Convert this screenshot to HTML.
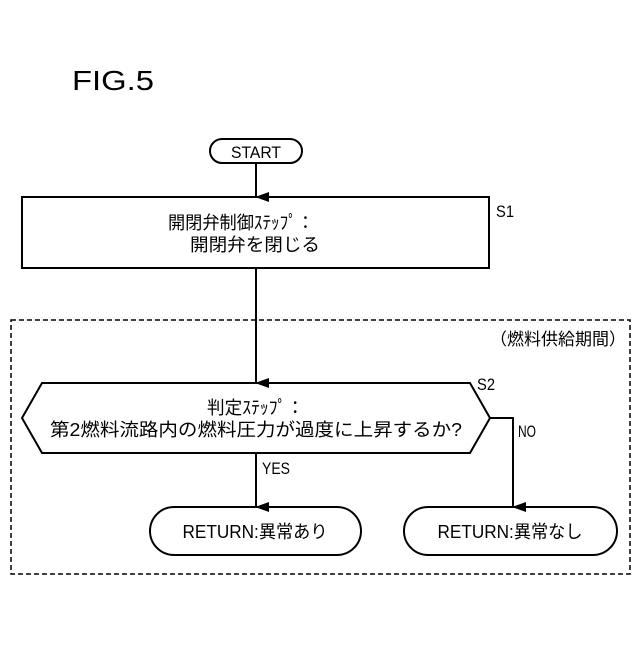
<!DOCTYPE html>
<html><head><meta charset="utf-8"><style>
html,body{margin:0;padding:0;background:#fff;}
svg text{font-family:"Liberation Sans","Noto Sans CJK JP",sans-serif;fill:#000;}
</style></head><body>
<svg width="640" height="640" viewBox="0 0 640 640" xmlns="http://www.w3.org/2000/svg">
<defs><marker id="a" markerWidth="10" markerHeight="14" refX="5" refY="13" orient="auto-start-reverse" markerUnits="userSpaceOnUse"><path d="M0,0 L5,14 L10,0 Z" fill="#000"/></marker></defs>
<text x="72" y="90" font-size="28" textLength="82" lengthAdjust="spacingAndGlyphs">FIG.5</text>
<rect x="210" y="139" width="92" height="24" rx="12" fill="none" stroke="#000" stroke-width="2"/>
<text x="256" y="158" font-size="17" text-anchor="middle" textLength="50" lengthAdjust="spacingAndGlyphs">START</text>
<line x1="256" y1="163" x2="256" y2="197" stroke="#000" stroke-width="2" marker-end="url(#a)"/>
<rect x="22" y="197" width="467" height="71" fill="none" stroke="#000" stroke-width="2"/>
<text x="496" y="217" font-size="17" textLength="18" lengthAdjust="spacingAndGlyphs">S1</text>
<text x="168" y="229" font-size="18" textLength="146" lengthAdjust="spacingAndGlyphs">開閉弁制御ｽﾃｯﾌﾟ：</text>
<text x="190" y="251" font-size="18" textLength="130" lengthAdjust="spacingAndGlyphs">開閉弁を閉じる</text>
<rect x="11" y="320" width="619" height="254" fill="none" stroke="#000" stroke-width="1.5" stroke-dasharray="5,3"/>
<text x="626" y="345" font-size="17" text-anchor="end" textLength="136" lengthAdjust="spacingAndGlyphs">（燃料供給期間）</text>
<line x1="256" y1="268" x2="256" y2="383" stroke="#000" stroke-width="2" marker-end="url(#a)"/>
<polygon points="42,383 470,383 490,418 470,453 42,453 22,418" fill="none" stroke="#000" stroke-width="2"/>
<text x="477" y="390" font-size="17" textLength="18" lengthAdjust="spacingAndGlyphs">S2</text>
<text x="207" y="414" font-size="18" textLength="97" lengthAdjust="spacingAndGlyphs">判定ｽﾃｯﾌﾟ：</text>
<text x="50" y="436" font-size="18" textLength="412" lengthAdjust="spacingAndGlyphs">第2燃料流路内の燃料圧力が過度に上昇するか?</text>
<polyline points="490,418 513,418 513,507" fill="none" stroke="#000" stroke-width="2" marker-end="url(#a)"/>
<text x="518" y="437" font-size="17" textLength="18" lengthAdjust="spacingAndGlyphs">NO</text>
<line x1="256" y1="453" x2="256" y2="507" stroke="#000" stroke-width="2" marker-end="url(#a)"/>
<text x="262" y="474" font-size="17" textLength="28" lengthAdjust="spacingAndGlyphs">YES</text>
<rect x="150" y="507" width="211" height="48" rx="24" fill="none" stroke="#000" stroke-width="2"/>
<text x="255" y="538" font-size="18" text-anchor="middle" textLength="145" lengthAdjust="spacingAndGlyphs">RETURN:異常あり</text>
<rect x="404" y="507" width="213" height="48" rx="24" fill="none" stroke="#000" stroke-width="2"/>
<text x="510" y="538" font-size="18" text-anchor="middle" textLength="145" lengthAdjust="spacingAndGlyphs">RETURN:異常なし</text>
</svg>
</body></html>
